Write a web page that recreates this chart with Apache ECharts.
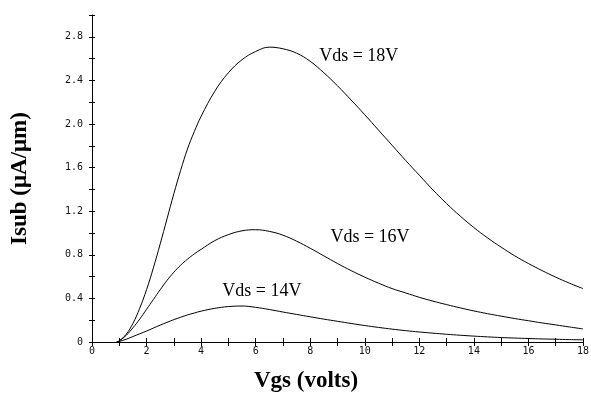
<!DOCTYPE html>
<html>
<head>
<meta charset="utf-8">
<script src="https://cdn.jsdelivr.net/npm/echarts@6/dist/echarts.min.js"></script>
<style>html,body{margin:0;padding:0;background:#fff}#c{width:591px;height:393px}</style>
</head>
<body>
<div id="c"></div>
<script>
// Vgs sample points (volts)
var vgs = [0.9,1.0,1.25,1.5,1.75,2.0,2.25,2.5,2.75,3.0,3.25,3.5,3.75,4.0,4.5,5.0,5.5,6.0,6.5,7.0,7.5,8.0,8.5,9.0,9.5,10,10.5,11,11.5,12,12.5,13,13.5,14,14.5,15,15.5,16,16.5,17,17.5,18];
// Isub (uA/um) for each Vds
var isub18 = [0,0.01,0.07,0.17,0.31,0.48,0.68,0.90,1.13,1.36,1.575,1.77,1.93,2.07,2.30,2.47,2.59,2.665,2.705,2.69,2.65,2.575,2.47,2.35,2.22,2.085,1.945,1.805,1.665,1.53,1.395,1.27,1.155,1.05,0.955,0.87,0.79,0.72,0.655,0.595,0.54,0.49];
var isub16 = [0,0.01,0.06,0.13,0.21,0.30,0.39,0.48,0.565,0.64,0.705,0.76,0.808,0.85,0.93,0.985,1.02,1.03,1.015,0.98,0.925,0.86,0.79,0.72,0.655,0.595,0.54,0.49,0.45,0.41,0.375,0.343,0.313,0.285,0.26,0.237,0.215,0.195,0.175,0.157,0.138,0.12];
var isub14 = [0,0.005,0.025,0.05,0.075,0.10,0.128,0.155,0.18,0.205,0.227,0.248,0.266,0.283,0.309,0.325,0.33,0.318,0.298,0.275,0.253,0.231,0.21,0.19,0.17,0.151,0.134,0.118,0.104,0.092,0.081,0.071,0.062,0.054,0.047,0.041,0.036,0.032,0.028,0.025,0.022,0.02];
var seriesNames = ['Vds = 18V','Vds = 16V','Vds = 14V'];
var xTickLabels = ['0','2','4','6','8','10','12','14','16','18'];
var yTickLabels = ['0','0.4','0.8','1.2','1.6','2.0','2.4','2.8'];

function pairs(ys){ return vgs.map(function(x,i){ return [x, ys[i]]; }); }

var tickFont = {fontFamily:'DejaVu Sans Mono', fontSize:10, color:'#111'};
var serif = 'Liberation Serif, Times New Roman, serif';

function mkLine(name, ys, labelCoord){
  return {
    name: name, type:'line', data: pairs(ys), smooth: 0.4, showSymbol:false,
    lineStyle:{color:'#000', width:1}, xAxisIndex:0, yAxisIndex:0,
    markPoint:{symbol:'circle', symbolSize:0, silent:true,
      data:[{coord: labelCoord, label:{show:true, formatter:name, position:'inside', color:'#000', fontFamily:serif, fontSize:18}}]}
  };
}

var chart = echarts.init(document.getElementById('c'));
var xBase = {type:'value', min:0, max:18, interval:1, position:'bottom'};
var yBase = {type:'value', min:0, max:3.0, interval:0.2, position:'left'};
chart.setOption({
  animation:false,
  backgroundColor:'#fff',
  grid:{left:92, right:8, top:15, bottom:51, containLabel:false, outerBoundsMode:'none'},
  xAxis:[
    Object.assign({}, xBase, {
      axisLine:{show:true, onZero:false, lineStyle:{color:'#000', width:1}},
      axisTick:{show:true, length:4, lineStyle:{color:'#000'}},
      splitLine:{show:false},
      axisLabel:Object.assign({margin:4, showMaxLabel:true, formatter:function(v){ var i = xTickLabels.indexOf(String(v)); return i>=0 ? xTickLabels[i] : ''; }}, tickFont),
      name:'Vgs (volts)', nameLocation:'middle', nameGap:28,
      nameTextStyle:{fontFamily:serif, fontWeight:'bold', fontSize:23, color:'#000', padding:[0,63,0,0]}
    }),
    Object.assign({}, xBase, {
      axisLine:{show:false, onZero:false}, axisTick:{show:true, inside:true, length:4, lineStyle:{color:'#000'}},
      axisLabel:{show:false}, splitLine:{show:false}
    })
  ],
  yAxis:[
    Object.assign({}, yBase, {
      axisLine:{show:true, onZero:false, lineStyle:{color:'#000', width:1}},
      axisTick:{show:true, length:3, lineStyle:{color:'#000'}},
      splitLine:{show:false},
      axisLabel:Object.assign({margin:9, showMaxLabel:true, formatter:function(v){
        var k = Math.round(v*10);
        if (k % 4 !== 0) return '';
        var idx = k/4; return idx < yTickLabels.length ? yTickLabels[idx] : '';
      }}, tickFont),
      name:'Isub (\u03bcA/\u03bcm)', nameLocation:'middle', nameGap:60, nameRotate:90,
      nameTextStyle:{fontFamily:serif, fontWeight:'bold', fontSize:23, color:'#000'}
    }),
    Object.assign({}, yBase, {
      axisLine:{show:false, onZero:false}, axisTick:{show:true, inside:true, length:3, lineStyle:{color:'#000'}},
      axisLabel:{show:false}, splitLine:{show:false}
    })
  ],
  series:[
    mkLine(seriesNames[0], isub18, [9.78, 2.62]),
    mkLine(seriesNames[1], isub16, [10.19, 0.96]),
    mkLine(seriesNames[2], isub14, [6.23, 0.47])
  ]
});
</script>
</body>
</html>
